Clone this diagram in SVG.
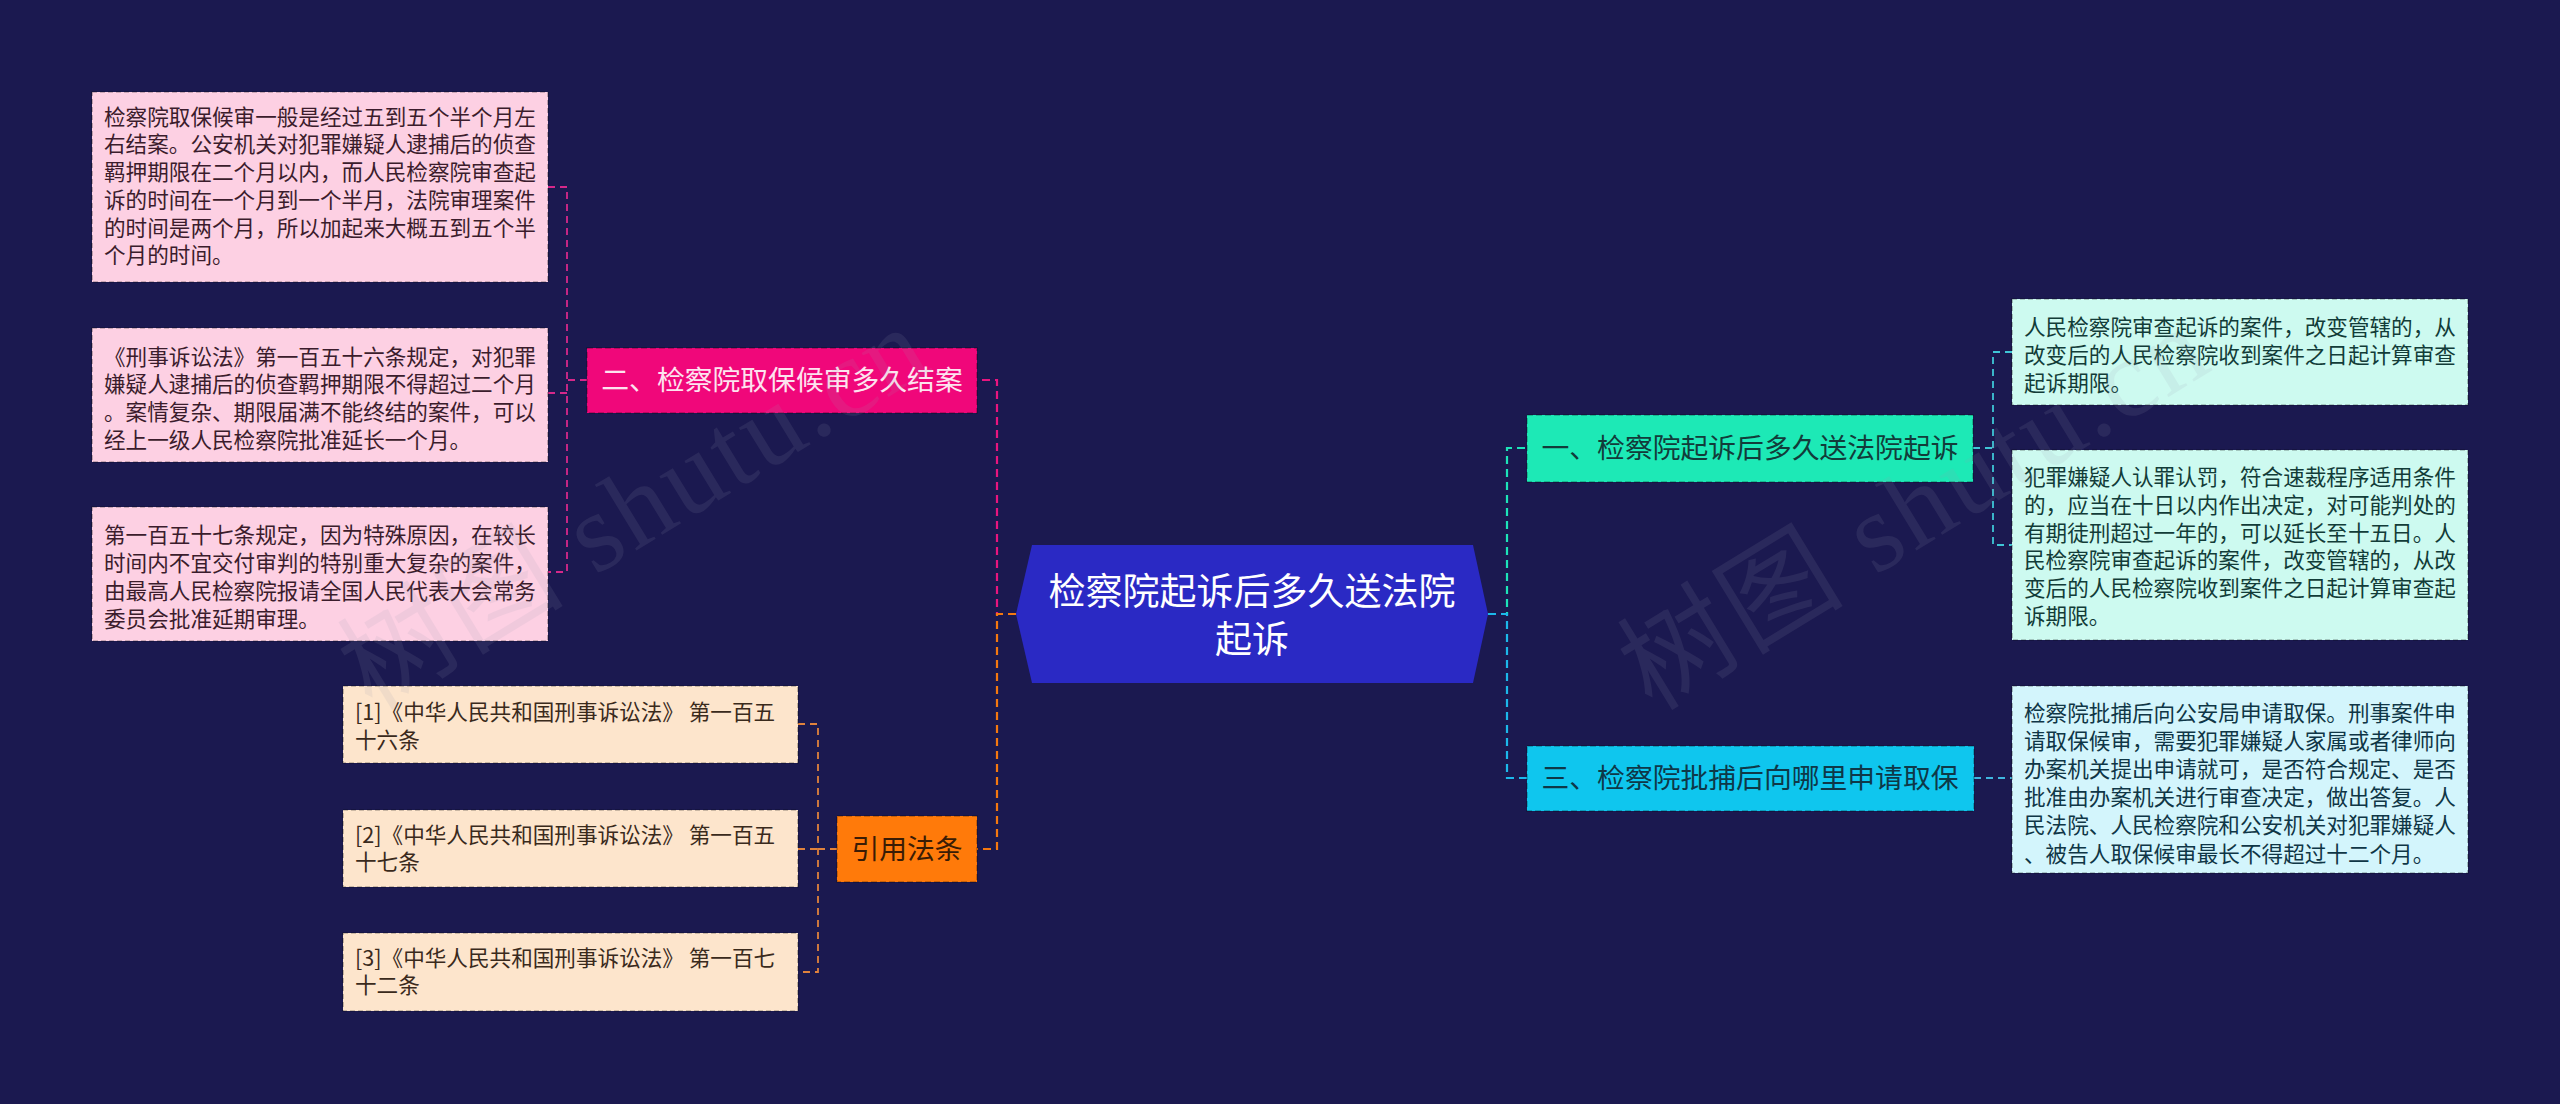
<svg xmlns="http://www.w3.org/2000/svg" width="2560" height="1104" viewBox="0 0 2560 1104">
<style>
text{font-family:"Noto Sans CJK SC","Noto Sans",sans-serif;}
.wm{font-family:"Liberation Serif","Noto Sans CJK SC",serif;font-size:112px;letter-spacing:3px;fill:#9a9ab0;opacity:0.12;}
.br{font-size:27.8px;}
.leaf{font-size:21.6px;}
.bbox{stroke:rgba(0,0,0,0.28);stroke-width:1.5;stroke-dasharray:6 3;}
.lbox{stroke:rgba(0,0,0,0.4);stroke-width:1.2;stroke-dasharray:5 3;}
.c{fill:none;stroke-width:2.2;stroke-dasharray:8 5;}
.cl{fill:none;stroke-width:1.8;stroke-dasharray:7 5;}
</style>
<rect width="2560" height="1104" fill="#1b1950"/>

<g id="connectors">
  <path class="c" stroke="#e8157f" d="M1016 614 H997 V380 H977"/>
  <path class="c" stroke="#f5780f" d="M1016 614 H997 V849 H977"/>
  <path class="c" stroke="#1de3b8" d="M1488 614 H1507 V448 H1527"/>
  <path class="c" stroke="#1cb8ea" d="M1488 614 H1507 V778 H1527"/>
  <path class="cl" stroke="#d6288a" d="M587 380 H567 M548 187 H567 V572 H548 M548 393 H567"/>
  <path class="cl" stroke="#e0823c" d="M837 849 H818 M798 724 H818 V972 H798 M798 849 H818"/>
  <path class="cl" stroke="#3fc6d6" d="M1973 448 H1993 M2012 352 H1993 V545 H2012"/>
  <path class="cl" stroke="#3fb6e0" d="M1974 778 H2012"/>
</g>

<g id="center">
  <polygon points="1016,614 1032,545 1473,545 1488,614 1473,683 1032,683" fill="#2a29c4"/>
  <text x="1252" y="605" font-size="37" fill="#ffffff" text-anchor="middle">检察院起诉后多久送法院</text>
  <text x="1252" y="653" font-size="37" fill="#ffffff" text-anchor="middle">起诉</text>
</g>

<g id="branch1">
  <rect class="bbox" x="1527" y="415" width="446" height="67" fill="#1de9b6"/>
  <text class="br" x="1750" y="458" fill="#123c3a" text-anchor="middle">一、检察院起诉后多久送法院起诉</text>
</g>
<g id="branch3">
  <rect class="bbox" x="1527" y="746" width="447" height="65" fill="#0fc6ee"/>
  <text class="br" x="1750" y="788" fill="#0e3848" text-anchor="middle">三、检察院批捕后向哪里申请取保</text>
</g>
<g id="branch2">
  <rect class="bbox" x="587" y="348" width="390" height="65" fill="#f0077a"/>
  <text class="br" x="782" y="390" fill="#fde3ef" text-anchor="middle">二、检察院取保候审多久结案</text>
</g>
<g id="branch4">
  <rect class="bbox" x="837" y="816" width="140" height="66" fill="#ff7a0a"/>
  <text class="br" x="907" y="859" fill="#3a1c05" text-anchor="middle">引用法条</text>
</g>

<g id="leafR1">
  <rect class="lbox" x="2012" y="299" width="456" height="106" fill="#cdfaf0"/>
  <g class="leaf" fill="#123c38">
    <text x="2024" y="335">人民检察院审查起诉的案件，改变管辖的，从</text>
    <text x="2024" y="363">改变后的人民检察院收到案件之日起计算审查</text>
    <text x="2024" y="391">起诉期限。</text>
  </g>
</g>
<g id="leafR2">
  <rect class="lbox" x="2012" y="450" width="456" height="190" fill="#cdfaf0"/>
  <g class="leaf" fill="#123c38">
    <text x="2024" y="485">犯罪嫌疑人认罪认罚，符合速裁程序适用条件</text>
    <text x="2024" y="513">的，应当在十日以内作出决定，对可能判处的</text>
    <text x="2024" y="541">有期徒刑超过一年的，可以延长至十五日。人</text>
    <text x="2024" y="568">民检察院审查起诉的案件，改变管辖的，从改</text>
    <text x="2024" y="596">变后的人民检察院收到案件之日起计算审查起</text>
    <text x="2024" y="624">诉期限。</text>
  </g>
</g>
<g id="leafR3">
  <rect class="lbox" x="2012" y="686" width="456" height="187" fill="#d3f5fc"/>
  <g class="leaf" fill="#0f3646">
    <text x="2024" y="721">检察院批捕后向公安局申请取保。刑事案件申</text>
    <text x="2024" y="749">请取保候审，需要犯罪嫌疑人家属或者律师向</text>
    <text x="2024" y="777">办案机关提出申请就可，是否符合规定、是否</text>
    <text x="2024" y="805">批准由办案机关进行审查决定，做出答复。人</text>
    <text x="2024" y="833">民法院、人民检察院和公安机关对犯罪嫌疑人</text>
    <text x="2024" y="862">、被告人取保候审最长不得超过十二个月。</text>
  </g>
</g>

<g id="leafL1">
  <rect class="lbox" x="92" y="92" width="456" height="190" fill="#fdd0e3"/>
  <g class="leaf" fill="#3b1c2c">
    <text x="104" y="125">检察院取保候审一般是经过五到五个半个月左</text>
    <text x="104" y="152">右结案。公安机关对犯罪嫌疑人逮捕后的侦查</text>
    <text x="104" y="180">羁押期限在二个月以内，而人民检察院审查起</text>
    <text x="104" y="208">诉的时间在一个月到一个半月，法院审理案件</text>
    <text x="104" y="236">的时间是两个月，所以加起来大概五到五个半</text>
    <text x="104" y="263">个月的时间。</text>
  </g>
</g>
<g id="leafL2">
  <rect class="lbox" x="92" y="328" width="456" height="134" fill="#fdd0e3"/>
  <g class="leaf" fill="#3b1c2c">
    <text x="104" y="365">《刑事诉讼法》第一百五十六条规定，对犯罪</text>
    <text x="104" y="392">嫌疑人逮捕后的侦查羁押期限不得超过二个月</text>
    <text x="104" y="420">。案情复杂、期限届满不能终结的案件，可以</text>
    <text x="104" y="448">经上一级人民检察院批准延长一个月。</text>
  </g>
</g>
<g id="leafL3">
  <rect class="lbox" x="92" y="507" width="456" height="134" fill="#fdd0e3"/>
  <g class="leaf" fill="#3b1c2c">
    <text x="104" y="543">第一百五十七条规定，因为特殊原因，在较长</text>
    <text x="104" y="571">时间内不宜交付审判的特别重大复杂的案件，</text>
    <text x="104" y="599">由最高人民检察院报请全国人民代表大会常务</text>
    <text x="104" y="627">委员会批准延期审理。</text>
  </g>
</g>

<g id="cite1">
  <rect class="lbox" x="343" y="686" width="455" height="77" fill="#fde5cc"/>
  <g class="leaf" fill="#3a2a1c">
    <text x="355" y="720">[1]《中华人民共和国刑事诉讼法》 第一百五</text>
    <text x="355" y="748">十六条</text>
  </g>
</g>
<g id="cite2">
  <rect class="lbox" x="343" y="810" width="455" height="77" fill="#fde5cc"/>
  <g class="leaf" fill="#3a2a1c">
    <text x="355" y="843">[2]《中华人民共和国刑事诉讼法》 第一百五</text>
    <text x="355" y="870">十七条</text>
  </g>
</g>
<g id="cite3">
  <rect class="lbox" x="343" y="933" width="455" height="78" fill="#fde5cc"/>
  <g class="leaf" fill="#3a2a1c">
    <text x="355" y="966">[3]《中华人民共和国刑事诉讼法》 第一百七</text>
    <text x="355" y="993">十二条</text>
  </g>
</g>

<g id="watermarks">
  <text class="wm" x="0" y="0" transform="translate(372,712) rotate(-31.4)">树图 shutu.cn</text>
  <text class="wm" x="0" y="0" transform="translate(1652,712) rotate(-31.4)">树图 shutu.cn</text>
</g>
</svg>
